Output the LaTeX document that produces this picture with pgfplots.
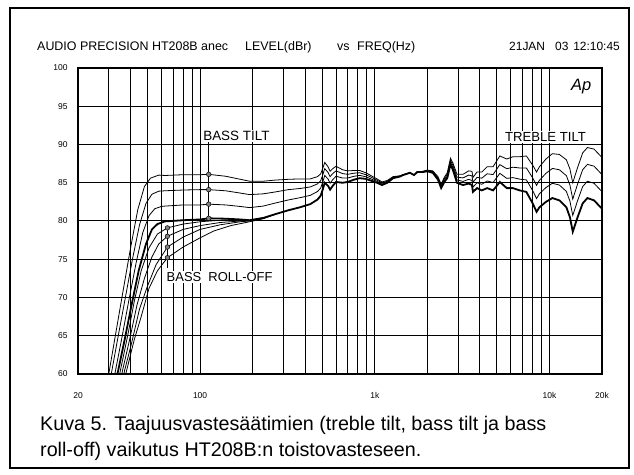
\documentclass[border=0pt]{standalone}
\usepackage{pgfplots}
\pgfplotsset{compat=1.18}
\usepackage{fontspec}
\setmainfont{Liberation Sans}
\begin{document}
\begin{tikzpicture}
\path[use as bounding box] (0bp,0bp) rectangle (634bp,475bp);
\draw[line width=1.2bp] (10bp,7bp) rectangle (629bp,467bp);
\begin{scope}[every node/.style={inner sep=0pt, font=\fontsize{12.5}{14}\selectfont}]
\node[anchor=base west] at (37bp,424bp) {AUDIO PRECISION HT208B anec};
\node[anchor=base west] at (245bp,424bp) {LEVEL(dBr)};
\node[anchor=base west] at (337bp,424bp) {vs};
\node[anchor=base west] at (357bp,424bp) {FREQ(Hz)};
\end{scope}
\begin{scope}[every node/.style={inner sep=0pt, font=\fontsize{12}{14}\selectfont}]
\node[anchor=base west] at (509bp,424bp) {21JAN};
\node[anchor=base west] at (555bp,424bp) {03};
\node[anchor=base east] at (620bp,424bp) {12:10:45};
\end{scope}
\node[anchor=base west, inner sep=0pt, font=\fontsize{19.8}{22}\selectfont] at (40bp,44bp) {Kuva 5. Taajuusvastesäätimien (treble tilt, bass tilt ja bass};
\node[anchor=base west, inner sep=0pt, font=\fontsize{19.8}{22}\selectfont] at (40bp,19bp) {roll-off) vaikutus HT208B:n toistovasteseen.};
\begin{axis}[
  at={(78bp,101bp)}, anchor=south west,
  width=524bp, height=306bp, scale only axis,
  xmode=log, xmin=20, xmax=20000, ymin=60, ymax=100,
  xtick={20,100,1000,10000,20000}, xticklabels={20,100,1k,10k,20k},
  minor xtick={30,40,50,60,70,80,90,200,300,400,500,600,700,800,900,2000,3000,4000,5000,6000,7000,8000,9000},
  ytick={60,65,70,75,80,85,90,95,100}, yticklabels={60,65,70,75,80,85,90,95,100},
  xmajorgrids, xminorgrids, ymajorgrids,
  major grid style={black, line width=1bp},
  minor grid style={black, line width=1bp},
  major tick length=0pt, minor tick length=0pt,
  axis line style={black, line width=1.1bp},
  /pgf/number format/assume math mode=true,
  tick label style={font=\fontsize{8.5}{10}\selectfont},
  xticklabel style={yshift=-15bp},
  yticklabel style={xshift=-7bp},
]
% bass tilt +6
\addplot[black, line width=0.8bp] coordinates {(28,56.5) (30,60) (33,65.5) (36,70.5) (40,76.5) (44,81.5) (48,84.5) (52,85.6) (58,86.0) (63,85.95) (80,86.05) (100,86.05) (112,86.1) (140,85.85) (170,85.45) (192,85.2) (230,85.2) (270,85.35) (320,85.45) (374,85.5) (427,85.5) (470,85.8) (490,86.15) (505,86.95) (517,87.65) (540,87.1) (555,86.5) (575,86.85) (600,87.15) (654,86.7) (700,86.55) (760,86.6) (820,86.6) (890,86.3) (1030,85.5) (1100,85.1) (1180,85.3) (1273,85.8) (1390,85.9) (1451,86.05) (1590,86.3)};
% bass tilt +4
\addplot[black, line width=0.8bp] coordinates {(29,56.5) (31,60) (34,65) (37,69.5) (41,75) (45,79.5) (49,82.3) (53,83.5) (58,83.9) (63,83.95) (80,84.05) (100,84.1) (112,84.1) (140,83.95) (170,83.65) (192,83.45) (230,83.55) (270,83.8) (320,84.1) (374,84.25) (427,84.45) (470,84.85) (490,85.25) (505,86.1) (517,86.85) (540,86.35) (555,85.8) (575,86.2) (600,86.55) (654,86.2) (700,86.1) (760,86.25) (820,86.3) (890,86.05) (1030,85.35) (1100,84.98) (1180,85.2) (1273,85.73) (1390,85.87) (1451,86.03) (1590,86.3)};
% bass tilt +2
\addplot[black, line width=0.8bp] coordinates {(30,56.5) (32.5,60) (35.5,64.5) (39,69.5) (43,74.5) (47,78.5) (51,80.7) (55,81.6) (60,81.9) (63,81.95) (80,82.1) (100,82.1) (112,82.2) (140,82.1) (170,81.9) (192,81.75) (230,81.95) (270,82.35) (320,82.75) (374,83.05) (427,83.35) (470,83.85) (490,84.3) (505,85.15) (517,85.95) (540,85.5) (555,84.95) (575,85.4) (600,85.85) (654,85.62) (700,85.62) (760,85.84) (820,85.96) (890,85.78) (1030,85.18) (1100,84.84) (1180,85.1) (1273,85.66) (1390,85.83) (1451,86.01) (1590,86.3)};
% roll-off curves
\addplot[black, line width=0.8bp] coordinates {(32,56) (35,60.5) (38.5,65) (42,69.5) (46,73.5) (51,76.5) (57,78.3) (65,79.1) (80,79.6) (100,79.9) (130,80.1) (170,80.15) (192,80.1) (230,80.4)};
\addplot[black, line width=0.8bp] coordinates {(33,56) (36,60.5) (39.5,64.5) (43.5,69) (48,72.5) (53,75.3) (58,77) (65,78.0) (80,78.9) (100,79.4) (130,79.8) (170,80.0) (192,80.05) (230,80.4)};
\addplot[black, line width=0.8bp] coordinates {(33.5,56) (37,60.5) (40.5,64) (45,68.5) (50,71.5) (56,74.3) (65,76.6) (80,77.9) (100,78.9) (130,79.5) (170,79.9) (192,80.0) (230,80.35) (270,80.9)};
\addplot[black, line width=0.8bp] coordinates {(34,56) (38,60.5) (42,64.5) (46,67.5) (51,71.2) (57,73.5) (65,75.2) (80,76.6) (100,77.8) (120,78.7) (150,79.4) (192,79.9) (230,80.3) (270,80.9)};
% treble tilt curves
\addplot[black, line width=0.8bp] coordinates {(1750,86.4) (1885,86.5) (2000,86.65) (2150,86.55) (2300,85.8) (2400,84.8) (2500,85.7) (2600,86.3) (2713,88.2) (2800,87.6) (2956,86.1) (3200,86.1) (3450,86.55) (3600,86.5) (3650,85.7) (3850,86.4) (4100,86.4) (4400,87.1) (4760,87.1) (5200,88.5) (5700,88.1) (6180,88.4) (6760,88.4) (7380,88.5) (8020,87.3) (8440,86.4) (8770,87.1) (9550,88.1) (10400,88.8) (11400,88.7) (12500,88.0) (13100,86.8) (13600,85.0) (14500,87.0) (15500,88.9) (16500,89.6) (18000,89.4) (20000,88.3)};
\addplot[black, line width=0.8bp] coordinates {(1750,86.4) (1885,86.47) (2000,86.6) (2150,86.47) (2300,85.67) (2400,84.63) (2500,85.5) (2600,86.07) (2713,87.93) (2800,87.3) (2956,85.73) (3200,85.63) (3450,86.0) (3600,85.9) (3650,85.07) (3850,85.7) (4100,85.6) (4400,86.17) (4760,86.07) (5200,87.37) (5700,86.83) (6180,87.03) (6760,86.93) (7380,86.93) (8020,85.63) (8440,84.67) (8770,85.33) (9550,86.23) (10400,86.87) (11400,86.7) (12500,85.93) (13100,84.7) (13600,82.87) (14500,84.83) (15500,86.7) (16500,87.4) (18000,87.17) (20000,86.07)};
\addplot[black, line width=0.8bp] coordinates {(1750,86.4) (1885,86.43) (2000,86.55) (2150,86.38) (2300,85.53) (2400,84.47) (2500,85.3) (2600,85.83) (2713,87.67) (2800,87.0) (2956,85.37) (3200,85.17) (3450,85.45) (3600,85.3) (3650,84.43) (3850,85.0) (4100,84.8) (4400,85.23) (4760,85.03) (5200,86.23) (5700,85.57) (6180,85.67) (6760,85.47) (7380,85.37) (8020,83.97) (8440,82.93) (8770,83.57) (9550,84.37) (10400,84.93) (11400,84.7) (12500,83.87) (13100,82.6) (13600,80.73) (14500,82.67) (15500,84.5) (16500,85.2) (18000,84.93) (20000,83.83)};
% base (flat) response
\addplot[black, line width=1.8bp] coordinates {(31,56.5) (34,60.5) (37,64.5) (40.5,69) (44.5,73.5) (49,77) (53,78.9) (57,79.6) (63,79.95) (80,80.1) (100,80.2) (112,80.35) (140,80.3) (170,80.2) (192,80.1) (230,80.4) (270,80.9) (320,81.4) (374,81.8) (427,82.2) (470,82.8) (490,83.3) (505,84.2) (517,85.0) (540,84.6) (555,84.1) (575,84.6) (600,85.1) (654,85.0) (700,85.1) (760,85.4) (820,85.6) (890,85.5) (1030,85.0) (1100,84.7) (1180,85.0) (1273,85.6) (1390,85.8) (1451,86.0) (1590,86.3) (1680,86.0) (1750,86.4) (1885,86.4) (2000,86.5) (2150,86.3) (2300,85.4) (2400,84.3) (2500,85.1) (2600,85.6) (2713,87.4) (2800,86.7) (2956,85.0) (3200,84.7) (3450,84.9) (3600,84.7) (3650,83.8) (3850,84.3) (4100,84.0) (4400,84.3) (4760,84.0) (5200,85.1) (5700,84.3) (6180,84.3) (6760,84.0) (7380,83.8) (8020,82.3) (8440,81.2) (8770,81.8) (9550,82.5) (10400,83.0) (11400,82.7) (12500,81.8) (13100,80.5) (13600,78.6) (14500,80.5) (15500,82.3) (16500,83.0) (18000,82.7) (20000,81.6)};
% marker lines
\addplot[black, line width=0.8bp] coordinates {(112,80.35) (112,90.4)};
\addplot[black, line width=0.8bp] coordinates {(65,79.1) (65,73.9)};
% markers
\addplot[only marks, mark=*, mark size=2.3bp, mark options={fill=gray, draw=black, line width=0.5bp}] coordinates {(112,86.1) (112,84.1) (112,82.2) (112,80.35) (65,79.1) (65,78.0) (65,76.6) (65,75.2)};
% labels
\node[fill=white, inner sep=1.5bp, anchor=west, font=\fontsize{13.5}{15}\selectfont] at (axis cs:102,91.1) {BASS TILT};
\node[fill=white, inner sep=1.5bp, anchor=west, font=\fontsize{13}{15}\selectfont] at (axis cs:63,72.7) {BASS\ \ ROLL-OFF};
\node[fill=white, inner sep=1.5bp, anchor=center, font=\fontsize{13.2}{15}\selectfont] at (axis cs:9500,91.0) {TREBLE\ TILT};
\node[inner sep=0pt, anchor=center, font=\fontsize{16.5}{18}\selectfont\itshape] at (axis cs:15200,97.6) {Ap};
\end{axis}
\end{tikzpicture}
\end{document}
